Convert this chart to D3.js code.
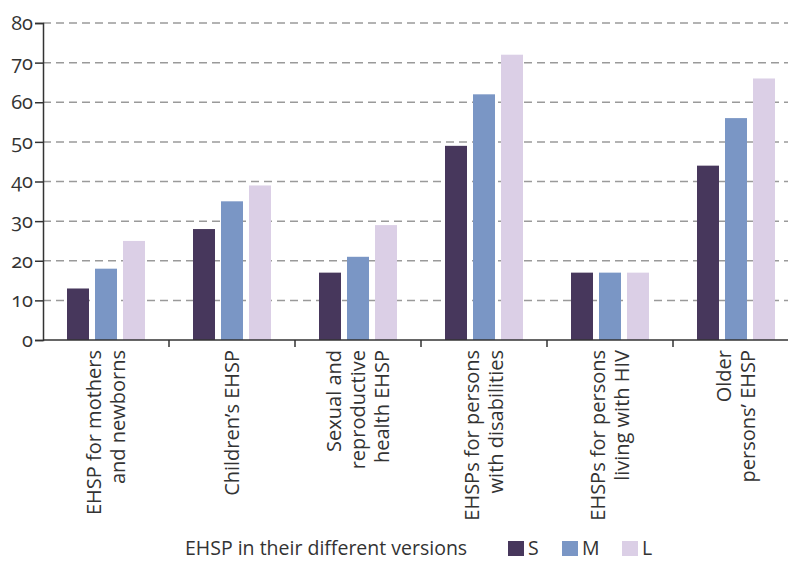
<!DOCTYPE html>
<html>
<head>
<meta charset="utf-8">
<script src="https://cdn.jsdelivr.net/npm/d3@7"></script>
<style>
  body { margin: 0; background: #fff; }
  svg text { font-family: "Open Sans", Lato, sans-serif; fill: #333; font-variant-numeric: oldstyle-nums; }
</style>
</head>
<body>
<svg id="chart" width="788" height="561"></svg>
<script>
const categories = [
  ["EHSP for mothers", "and newborns"],
  ["Children\u2019s EHSP"],
  ["Sexual and", "reproductive", "health EHSP"],
  ["EHSPs for persons", "with disabilities"],
  ["EHSPs for persons", "living with HIV"],
  ["Older", "persons\u2019 EHSP"]
];
const seriesNames = ["S", "M", "L"];
const valuesS = [13, 28, 17, 49, 17, 44];
const valuesM = [18, 35, 21, 62, 17, 56];
const valuesL = [25, 39, 29, 72, 17, 66];
const yTicks = [0, 10, 20, 30, 40, 50, 60, 70, 80];
const legendTitle = "EHSP in their different versions";
const colors = ["#47375c", "#7a96c5", "#dbcfe6"];

const series = [valuesS, valuesM, valuesL];
const svg = d3.select("#chart");
const mLeft = 43, mRight = 799, mTop = 23, mBottom = 340;
const fs = "20px";

const x0 = d3.scaleBand().domain(d3.range(categories.length)).range([mLeft, mRight]).paddingInner(0).paddingOuter(0);
const x1 = d3.scaleBand().domain(seriesNames).range([24, x0.bandwidth() - 24]).paddingInner(6/28).paddingOuter(0);
const y = d3.scaleLinear().domain([0, 80]).range([mBottom, mTop]);

// gridlines
svg.append("g").selectAll("line").data(yTicks.filter(d => d > 0)).join("line")
  .attr("x1", mLeft).attr("x2", 788)
  .attr("y1", d => y(d)).attr("y2", d => y(d))
  .attr("stroke", "#9a9a9a").attr("stroke-width", 1.5).attr("stroke-dasharray", "8,5");

// bars
const groups = svg.append("g").selectAll("g").data(categories).join("g")
  .attr("transform", (d, i) => `translate(${x0(i)},0)`);
groups.selectAll("rect").data((d, i) => seriesNames.map((s, k) => ({s, k, v: series[k][i]}))).join("rect")
  .attr("x", d => x1(d.s)).attr("width", x1.bandwidth())
  .attr("y", d => y(d.v)).attr("height", d => y(0) - y(d.v))
  .attr("fill", d => colors[d.k]);

// y axis
const yAxis = svg.append("g").attr("transform", `translate(${mLeft},0)`)
  .call(d3.axisLeft(y).tickValues(yTicks).tickSize(8).tickPadding(2));
yAxis.select(".domain").attr("stroke", "#333").attr("stroke-width", 1.5);
yAxis.selectAll(".tick line").attr("stroke", "#333").attr("stroke-width", 1.5);
yAxis.selectAll(".tick text").style("font-size", fs).attr("fill", "#333");

// x axis
const xAxisG = svg.append("g");
xAxisG.append("line").attr("x1", mLeft).attr("x2", 788).attr("y1", mBottom).attr("y2", mBottom)
  .attr("stroke", "#333").attr("stroke-width", 1.5);
xAxisG.selectAll("line.tk").data(d3.range(1, categories.length)).join("line").attr("class", "tk")
  .attr("x1", i => x0(i)).attr("x2", i => x0(i)).attr("y1", mBottom).attr("y2", mBottom + 7)
  .attr("stroke", "#333").attr("stroke-width", 1.5);

// category labels
const lh = 24;
categories.forEach((lines, i) => {
  const cx = x0(i) + x0.bandwidth() / 2;
  const n = lines.length;
  lines.forEach((t, j) => {
    const off = (j - (n - 1) / 2) * lh + 7;
    svg.append("text")
      .attr("transform", `translate(${cx + off},${mBottom + 10}) rotate(-90)`)
      .attr("text-anchor", "end")
      .style("font-size", fs)
      .text(t);
  });
});

// legend
const lg = svg.append("g");
const lfs = "19.5px";
lg.append("text").attr("x", 185).attr("y", 555).style("font-size", lfs).text(legendTitle);
const lx = [508, 562, 622];
seriesNames.forEach((s, k) => {
  lg.append("rect").attr("x", lx[k]).attr("y", 541).attr("width", 16).attr("height", 15).attr("fill", colors[k]);
  lg.append("text").attr("x", lx[k] + 20).attr("y", 555).style("font-size", lfs).text(s);
});
</script>
</body>
</html>
